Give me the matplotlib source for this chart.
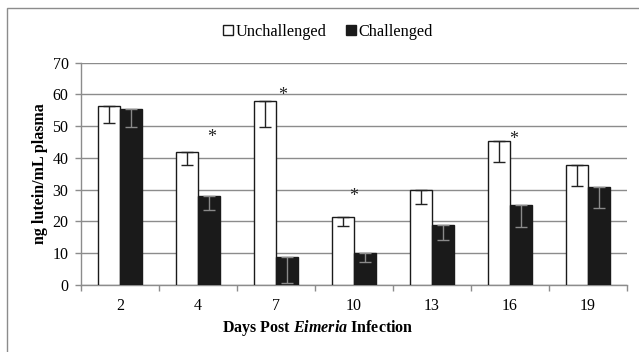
import matplotlib.pyplot as plt
import matplotlib.patches as patches
import numpy as np

plt.rcParams['font.family'] = ['Liberation Serif', 'DejaVu Serif']
plt.rcParams['mathtext.fontset'] = 'custom'
plt.rcParams['mathtext.rm'] = 'Liberation Serif'
plt.rcParams['mathtext.it'] = 'Liberation Serif:italic'
plt.rcParams['mathtext.bf'] = 'Liberation Serif:bold'
plt.rcParams['mathtext.bfit'] = 'Liberation Serif:italic:bold'

# data
days = ['2', '4', '7', '10', '13', '16', '19']
unchallenged = [56.5, 41.8, 58.0, 21.3, 29.9, 45.4, 37.7]
unchallenged_err = [5.6, 4.0, 8.2, 2.6, 4.4, 6.7, 6.6]
challenged = [55.5, 28.0, 8.9, 10.2, 18.8, 25.2, 30.8]
challenged_err = [5.7, 4.4, 8.2, 3.0, 4.6, 6.9, 6.5]
# significance stars: day index, x offset from the day centre, height
star_idx = [1, 2, 3, 5]
star_dx = [0.17, 0.08, 0.0, 0.05]
star_y = [46.5, 59.8, 27.8, 45.9]

fig = plt.figure(figsize=(6.39, 3.52), dpi=100)
ax = fig.add_axes([81 / 639, 1 - 285 / 352, 546 / 639, (285 - 62.7) / 352])

# outer frame (only left and top visible in the image)
fig.patches.append(patches.Rectangle((7 / 639, -0.1), 1.2, (352 - 8.5) / 352 + 0.1,
                                     transform=fig.transFigure, fill=False,
                                     edgecolor='#8c8c8c', linewidth=1.0))

x = np.arange(len(days))
w = 0.285
ax.bar(x - w / 2, unchallenged, w, color='white', edgecolor='#1a1a1a', linewidth=1.0,
       label='Unchallenged', zorder=3)
ax.bar(x + w / 2, challenged, w, color='#1a1a1a', edgecolor='#1a1a1a', linewidth=1.0,
       label='Challenged', zorder=3)
ax.errorbar(x - w / 2, unchallenged, yerr=[unchallenged_err, [0] * len(days)], fmt='none',
            ecolor='#222222', elinewidth=1.0, capsize=4, capthick=1.0, zorder=4)
ax.errorbar(x + w / 2, challenged, yerr=[challenged_err, [0] * len(days)], fmt='none',
            ecolor='#8a8a8a', elinewidth=1.0, capsize=4, capthick=1.0, zorder=4)

for i, dx, yy in zip(star_idx, star_dx, star_y):
    ax.text(x[i] + dx, yy, '*', ha='center', va='center', fontsize=13, color='#222222')

ax.set_xlim(-0.5, len(days) - 0.5)
ax.set_ylim(0, 70)
ax.set_yticks(np.arange(0, 71, 10))
ax.yaxis.grid(True, color='#8c8c8c', linewidth=1.0, zorder=0)
ax.set_axisbelow(True)

ax.set_xticks(x)
ax.set_xticklabels(days, fontsize=11.5)
ax.set_xticks(np.arange(-0.5, len(days), 1), minor=True)
ax.tick_params(axis='x', which='major', length=0, pad=9)
ax.tick_params(axis='x', which='minor', length=4, color='#8c8c8c', width=1.0)
ax.tick_params(axis='y', length=4, color='#8c8c8c', width=1.0, labelsize=11.5, pad=5)

for s in ['top', 'right']:
    ax.spines[s].set_visible(False)
for s in ['left', 'bottom']:
    ax.spines[s].set_color('#8c8c8c')
    ax.spines[s].set_linewidth(1.0)

ax.set_ylabel('ng lutein/mL plasma', fontsize=11.5, fontweight='bold', labelpad=3)
ax.set_xlabel('Days Post $\\mathbfit{Eimeria}$ Infection', fontsize=11.5, fontweight='bold',
              labelpad=3)
# the x title sits left of the axes centre in the original
ax.xaxis.label.set_x((318 - 81) / 546)

leg = fig.legend(loc='center', bbox_to_anchor=(328 / 639, 1 - 32 / 352), ncol=2,
                 frameon=False, fontsize=11.7, handlelength=0.6, handleheight=0.6,
                 handletextpad=0.15, columnspacing=1.2)

plt.savefig('out.png', dpi=100)
